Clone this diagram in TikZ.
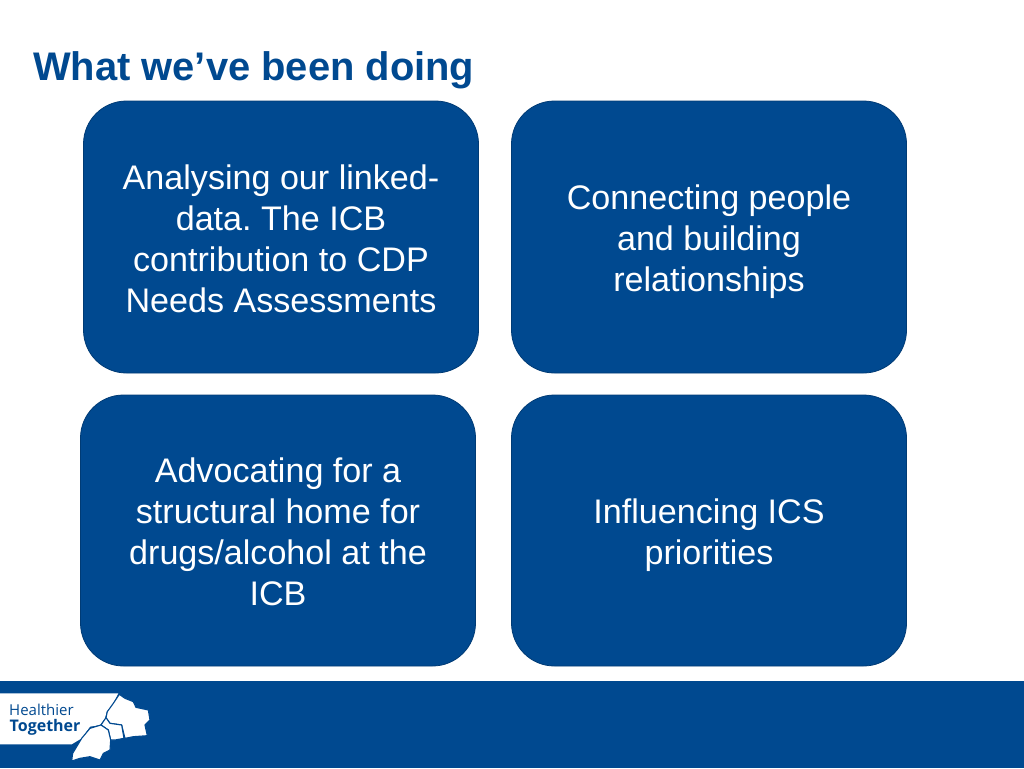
\documentclass[tikz,border=0pt]{standalone}
\usepackage{fontspec}
\setmainfont{Liberation Sans}
\newfontfamily\logofont{Open Sans}
\frenchspacing
\definecolor{nhsblue}{HTML}{004990}
\definecolor{edgeblue}{HTML}{003B75}
\tikzset{
  card/.style={draw=edgeblue,line width=0.8pt,fill=nhsblue,rounded corners=43pt,minimum width=395pt,inner sep=0pt},
  cardtext/.style={text=white,align=center,font=\fontsize{34.1}{41}\selectfont,inner sep=0pt},
  logoline/.style={draw=nhsblue,line width=1.1pt,line join=round}
}
\begin{document}
\begin{tikzpicture}[x=1pt,y=-1pt]
\useasboundingbox (0,0) rectangle (1024,768);
\fill[white] (0,0) rectangle (1024,768);
\node[anchor=base west,inner sep=0pt,text=nhsblue,font=\fontsize{39.9}{42}\selectfont\bfseries] (title) at (33,81) {What we’ve been doing};
\node[card,minimum height=272pt] (c1) at (281,237) {};
\node[card,minimum height=272pt] (c2) at (709,237) {};
\node[card,minimum height=271pt] (c3) at (278,530.5) {};
\node[card,minimum height=271pt] (c4) at (709,530.5) {};
\node[cardtext] (t1) at (281,239) {Analysing our linked-\\data. The ICB\\contribution to CDP\\Needs Assessments};
\node[cardtext] (t2) at (709,242) {Connecting people\\and building\\relationships};
\node[cardtext] (t3) at (278,532) {Advocating for a\\structural home for\\drugs/alcohol at the\\ICB};
\node[cardtext] (t4) at (709,535) {Influencing ICS\\priorities};
\fill[nhsblue] (0,681) rectangle (1024,768);
% logo, in coordinates of a 3x crop
\begin{scope}[shift={(0,675)},x=0.3333pt,y=-0.3333pt]
\fill[white] (0,55) -- (355,55) -- (340,85) -- (320,110) -- (315,130) -- (300,150) -- (270,155) -- (245,190) -- (215,208) -- (0,208) -- cycle;
\fill[white,logoline] (358,58) -- (375,70) -- (400,80) -- (408,97) -- (445,105) -- (450,135) -- (435,150) -- (442,182) -- (400,185) -- (375,190) -- (365,150) -- (330,145) -- (318,128) -- (322,110) -- (340,85) -- cycle;
\fill[white,logoline] (318,128) -- (330,145) -- (365,150) -- (372,190) -- (345,195) -- (332,195) -- (325,165) -- (303,150) -- cycle;
\fill[white,logoline] (303,150) -- (325,165) -- (332,195) -- (330,225) -- (310,235) -- (300,255) -- (270,245) -- (240,250) -- (215,258) -- (218,235) -- (245,190) -- (270,160) -- cycle;
\end{scope}
\node[anchor=base west,inner sep=0pt,text=nhsblue,font=\logofont\fontsize{15}{16}\selectfont] (h) at (9,715) {Healthier};
\node[anchor=base west,inner sep=0pt,text=nhsblue,font=\logofont\fontsize{16}{16}\selectfont\bfseries] (g) at (9.5,731) {Together};
\end{tikzpicture}
\end{document}
